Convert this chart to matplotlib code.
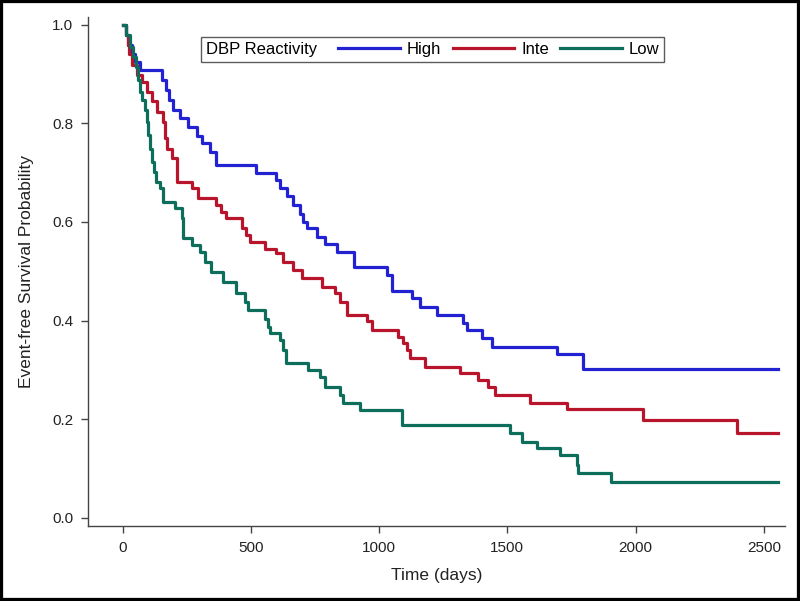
import matplotlib
matplotlib.use('Agg')
import matplotlib.pyplot as plt
from matplotlib.offsetbox import HPacker
from matplotlib.patches import Rectangle

plt.rcParams['font.family'] = ['Liberation Sans', 'DejaVu Sans']

# Kaplan-Meier steps: event time (days) and survival right after it
high_t = [0, 12, 22, 35, 48, 68, 155, 168, 180, 195, 225, 255, 290, 310, 340,
          366, 520, 600, 615, 640, 664, 690, 703, 720, 756, 790, 834, 902,
          1029, 1049, 1127, 1159, 1224, 1328, 1341, 1400, 1439, 1692, 1796]
high_s = [1.0, 0.98, 0.96, 0.94, 0.925, 0.908, 0.888, 0.868, 0.848, 0.828,
          0.81, 0.792, 0.775, 0.76, 0.742, 0.716, 0.70, 0.686, 0.669, 0.652,
          0.634, 0.617, 0.60, 0.588, 0.57, 0.555, 0.538, 0.509, 0.492, 0.46,
          0.445, 0.428, 0.412, 0.394, 0.381, 0.364, 0.347, 0.333, 0.301]

inte_t = [0, 14, 20, 26, 35, 55, 74, 94, 113, 133, 158, 165, 172, 191, 211,
          269, 295, 366, 385, 405, 464, 480, 496, 555, 600, 626, 665, 700, 776,
          828, 848, 873, 951, 971, 1074, 1094, 1107, 1120, 1179, 1315, 1386,
          1425, 1451, 1588, 1731, 2030, 2394]
inte_s = [1.0, 0.98, 0.96, 0.94, 0.918, 0.898, 0.884, 0.864, 0.845, 0.824,
          0.803, 0.77, 0.749, 0.729, 0.682, 0.668, 0.648, 0.634, 0.62, 0.607,
          0.587, 0.573, 0.56, 0.546, 0.536, 0.519, 0.502, 0.486, 0.469, 0.455,
          0.438, 0.411, 0.398, 0.381, 0.367, 0.354, 0.34, 0.323, 0.306, 0.293,
          0.279, 0.266, 0.249, 0.233, 0.22, 0.198, 0.171]

low_t = [0, 15, 30, 40, 52, 60, 67, 76, 87, 94, 100, 108, 116, 124, 132, 145,
         158, 204, 230, 236, 269, 300, 320, 345, 392, 444, 477, 490, 555, 565,
         574, 613, 626, 639, 724, 769, 789, 848, 860, 925, 1088, 1510, 1556,
         1614, 1705, 1770, 1775, 1906]
low_s = [1.0, 0.98, 0.955, 0.935, 0.915, 0.888, 0.864, 0.847, 0.827, 0.803,
         0.776, 0.749, 0.722, 0.702, 0.682, 0.668, 0.641, 0.628, 0.607, 0.567,
         0.553, 0.54, 0.519, 0.499, 0.479, 0.455, 0.438, 0.421, 0.404, 0.387,
         0.374, 0.36, 0.34, 0.313, 0.30, 0.286, 0.266, 0.249, 0.233, 0.218,
         0.188, 0.171, 0.154, 0.141, 0.127, 0.107, 0.091, 0.072]

t_end = 2556
groups = ['High', 'Inte', 'Low']
colors = ['#2222d2', '#b8142c', '#0d6e5c']
x_ticks = [0, 500, 1000, 1500, 2000, 2500]
y_ticks = [0.0, 0.2, 0.4, 0.6, 0.8, 1.0]

fig = plt.figure(figsize=(8, 6.01), dpi=100)
ax = fig.add_axes([0.11, 0.1248, 0.871, 0.847])

for t, s, name, c in zip([high_t, inte_t, low_t], [high_s, inte_s, low_s],
                         groups, colors):
    ax.step(t + [t_end], s + [s[-1]], where='post', color=c, lw=2.3,
            label=name)

ax.set_xlim(-135, 2582)
ax.set_ylim(-0.017, 1.016)
ax.set_xticks(x_ticks)
ax.set_yticks(y_ticks)
ax.set_yticklabels([f'{v:.1f}' for v in y_ticks])

for side in ['top', 'right']:
    ax.spines[side].set_visible(False)
for side in ['left', 'bottom']:
    ax.spines[side].set_color('#444444')
    ax.spines[side].set_linewidth(1.0)
ax.tick_params(direction='out', length=5, width=1, color='#444444',
               labelsize=11, labelcolor='#222222', pad=5.5)

ax.set_xlabel('Time (days)', fontsize=12.5, color='#222222', labelpad=9.5)
ax.set_ylabel('Event-free Survival Probability', fontsize=12.5,
              color='#222222', labelpad=13)

leg = ax.legend(title='DBP Reactivity', ncol=3, loc='upper center',
                bbox_to_anchor=(0.495, 0.961), fontsize=12, title_fontsize=12,
                frameon=True, fancybox=False, handlelength=3.7,
                handletextpad=0.4, columnspacing=0.7, borderpad=0.3,
                borderaxespad=0)
leg.get_frame().set_edgecolor('#333333')
leg.get_frame().set_linewidth(1.0)

# put the legend title on the same row as the entries
old = leg._legend_box
row = HPacker(pad=old.pad, sep=15, align='center', children=old.get_children())
row.set_figure(fig)
row.axes = ax
leg._legend_box = row
leg._legend_box.set_offset(leg._findoffset)

fig.patches.append(Rectangle((0, 0), 1, 1, transform=fig.transFigure,
                             fill=False, edgecolor='black', linewidth=4.5))

fig.savefig('out.png', dpi=100)
